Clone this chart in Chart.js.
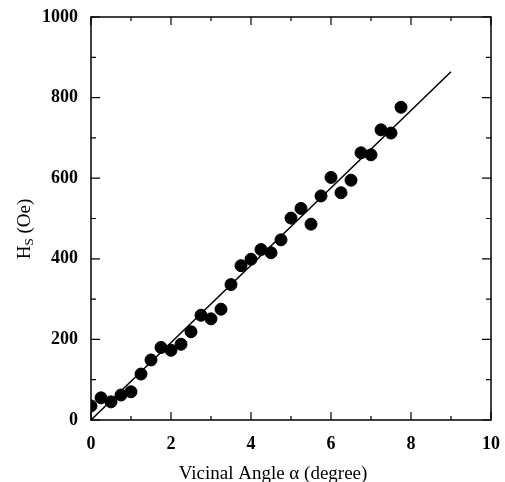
<!DOCTYPE html>
<html>
<head>
<meta charset="utf-8">
<script src="https://cdn.jsdelivr.net/npm/chart.js@4.4.1/dist/chart.umd.min.js"></script>
<style>
  html, body { margin: 0; padding: 0; background: #fff; }
  #wrap { width: 505px; height: 482px; }
</style>
</head>
<body>
<div id="wrap"><canvas id="chart" width="505" height="482"></canvas></div>
<script>
// vicinal angle (degree)
const angles = [0, 0.25, 0.5, 0.75, 1, 1.25, 1.5, 1.75, 2, 2.25, 2.5, 2.75, 3, 3.25, 3.5, 3.75,
                4, 4.25, 4.5, 4.75, 5, 5.25, 5.5, 5.75, 6, 6.25, 6.5, 6.75, 7, 7.25, 7.5, 7.75];
// saturation field Hs (Oe)
const hsValues = [35, 55, 45, 62, 70, 114, 149, 180, 173, 188, 219, 260, 251, 275, 336, 383,
                  399, 423, 415, 447, 501, 525, 486, 556, 602, 564, 595, 663, 658, 720, 712, 776];
// linear fit end points
const fitX = [0, 9];
const fitY = [0, 864];

const xTicks = [0, 2, 4, 6, 8, 10];
const yTicks = [0, 200, 400, 600, 800, 1000];

const serif = "'Liberation Serif', 'DejaVu Serif', serif";

// box round the plot with inward ticks on every side, plus both axis titles
const framePlugin = {
    id: 'frame',
    afterDraw(chart) {
        const ctx = chart.ctx;
        const a = chart.chartArea;
        const xs = chart.scales.x;
        const ys = chart.scales.y;
        ctx.save();
        ctx.strokeStyle = '#000';
        ctx.lineWidth = 1.5;
        ctx.strokeRect(a.left, a.top, a.right - a.left, a.bottom - a.top);
        ctx.lineWidth = 1.2;
        ctx.beginPath();
        for (let v = 0; v <= 10; v++) {
            const px = xs.getPixelForValue(v);
            const len = v % 2 === 0 ? 8 : 4;
            ctx.moveTo(px, a.bottom); ctx.lineTo(px, a.bottom - len);
            ctx.moveTo(px, a.top); ctx.lineTo(px, a.top + len);
        }
        for (let v = 0; v <= 1000; v += 100) {
            const py = ys.getPixelForValue(v);
            const len = v % 200 === 0 ? 9 : 5;
            ctx.moveTo(a.left, py); ctx.lineTo(a.left + len, py);
            ctx.moveTo(a.right, py); ctx.lineTo(a.right - len, py);
        }
        ctx.stroke();

        ctx.fillStyle = '#000';
        ctx.textBaseline = 'middle';

        // x axis title
        ctx.textAlign = 'center';
        ctx.font = '19px ' + serif;
        ctx.fillText('Vicinal Angle α (degree)', 273, 474);

        // y axis title: H_S (Oe)
        ctx.translate(25, 229);
        ctx.rotate(-Math.PI / 2);
        ctx.font = '19px ' + serif;
        const w1 = ctx.measureText('H').width;
        ctx.font = '13px ' + serif;
        const w2 = ctx.measureText('S').width;
        ctx.font = '19px ' + serif;
        const w3 = ctx.measureText(' (Oe)').width;
        let x0 = -(w1 + w2 + w3) / 2;
        ctx.textAlign = 'left';
        ctx.fillText('H', x0, 0);
        ctx.font = '13px ' + serif;
        ctx.fillText('S', x0 + w1, 5);
        ctx.font = '19px ' + serif;
        ctx.fillText(' (Oe)', x0 + w1 + w2, 0);
        ctx.restore();
    }
};

new Chart(document.getElementById('chart'), {
    type: 'scatter',
    data: {
        datasets: [{
            label: 'fit',
            data: fitX.map((x, i) => ({ x: x, y: fitY[i] })),
            showLine: true,
            borderColor: '#000',
            borderWidth: 1.5,
            pointRadius: 0,
            order: 2
        }, {
            label: 'Hs',
            data: angles.map((x, i) => ({ x: x, y: hsValues[i] })),
            backgroundColor: '#000',
            borderColor: '#000',
            pointRadius: 6,
            order: 1
        }]
    },
    options: {
        responsive: false,
        animation: false,
        layout: { padding: { left: 0, right: 14, top: 17, bottom: 0 } },
        plugins: { legend: { display: false }, tooltip: { enabled: false } },
        scales: {
            x: {
                type: 'linear',
                min: 0, max: 10,
                afterBuildTicks: s => { s.ticks = xTicks.map(v => ({ value: v })); },
                afterFit: s => { s.height = 62; s.paddingLeft = 0; s.paddingRight = 0; },
                grid: { display: false, drawTicks: false },
                border: { display: false },
                ticks: { color: '#000', padding: 14, font: { family: serif, size: 18, weight: 'bold' } }
            },
            y: {
                type: 'linear',
                min: 0, max: 1000,
                afterBuildTicks: s => { s.ticks = yTicks.map(v => ({ value: v })); },
                afterFit: s => { s.width = 91; s.paddingTop = 0; s.paddingBottom = 0; },
                grid: { display: false, drawTicks: false },
                border: { display: false },
                ticks: {
                    color: '#000', padding: 13,
                    font: { family: serif, size: 18, weight: 'bold' },
                    callback: v => String(v)
                }
            }
        }
    },
    plugins: [framePlugin]
});
</script>
</body>
</html>
